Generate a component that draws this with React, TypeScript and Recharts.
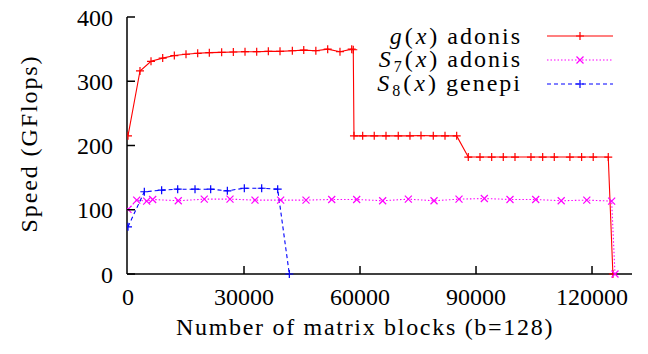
import React from 'react';
import { LineChart, Line, XAxis, YAxis, Legend } from 'recharts';

// g(x) adonis
const gX = [0, 3100, 5950, 8970, 11980, 15000, 18020, 21030, 24220, 27240, 30260, 33280, 36290, 39310, 42500, 45450, 48580, 51640, 54820, 57850, 58260,
  58440, 60690, 63680, 66720, 69890, 72920, 75770, 78950, 81980, 85000,
  88000, 91030, 94050, 97050, 100080, 104210, 107240, 110240, 114280, 117310, 120310, 124200, 125400];
const gY = [215, 316, 331, 336, 340, 342, 343.5, 344.5, 345, 345.5, 346, 346, 346.5, 346.5, 347.5, 348.5, 347.5, 350, 346, 350, 349,
  215, 215, 215, 215, 215, 215, 215.5, 215, 215, 215,
  182, 182, 182, 182, 182, 182, 182, 182, 182, 182, 182, 182, 0];

// S7(x) adonis
const s7X = [0, 2250, 4830, 6380, 13000, 19720, 26380, 32840, 39480, 46030, 52680, 59140, 65860, 72500, 79140, 85600, 92150, 98790, 105440, 112030, 118650, 125080, 125940];
const s7Y = [100.5, 115, 113.5, 116, 114, 116.5, 116.5, 115, 115, 115, 116, 116, 114, 116.5, 114, 116.5, 117.5, 116, 116, 114, 115, 113.5, 0];

// S8(x) genepi
const s8X = [0, 4220, 8700, 12850, 17330, 21380, 25690, 30080, 34570, 38710, 41720];
const s8Y = [73.5, 128, 130.5, 132, 132, 132, 129.5, 133.5, 133.5, 132, 0];

const xTicks = [0, 30000, 60000, 90000, 120000];
const yTicks = [0, 100, 200, 300, 400];
const xDomain = [-260, 130340];

const toPoints = (xs: number[], ys: number[]) => xs.map((x, i) => ({ x, y: ys[i] }));

const FONT = '"Liberation Serif", serif';
const TS = 8; // tick size
const TM = 6; // tick margin
const IN = 8; // inward tick length

type Marker = 'plus' | 'cross';

const SERIES = [
  { key: 'g', fn: 'g', sub: '', host: 'adonis', color: '#ff0000', dash: undefined as string | undefined, marker: 'plus' as Marker, data: toPoints(gX, gY) },
  { key: 's7', fn: 'S', sub: '7', host: 'adonis', color: '#ff00ff', dash: '1.5 2', marker: 'cross' as Marker, data: toPoints(s7X, s7Y) },
  { key: 's8', fn: 'S', sub: '8', host: 'genepi', color: '#0000ff', dash: '4 3', marker: 'plus' as Marker, data: toPoints(s8X, s8Y) },
];

const markerPath = (m: Marker, cx: number, cy: number) =>
  m === 'plus'
    ? `M${cx - 4},${cy}h8M${cx},${cy - 4}v8`
    : `M${cx - 3.5},${cy - 3.5}l7,7M${cx - 3.5},${cy + 3.5}l7,-7`;

const renderDot = (m: Marker, color: string) => (p: any) => (
  <path key={`d-${p.index}`} d={markerPath(m, p.cx, p.cy)} stroke={color} strokeWidth={1.2} fill="none" />
);

const isEdgeX = (v: number) => v === 0;

// inward tick marks, placed from the axis' own tick positions
const BottomTick = (p: any) => {
  const axisY = p.y - TS - TM;
  return (
    <g>
      {!isEdgeX(p.payload.value) && <line x1={p.x} x2={p.x} y1={axisY} y2={axisY - IN} stroke="#000" strokeWidth={1.5} />}
      <text x={p.x} y={p.y} dy="0.71em" textAnchor="middle" fontFamily={FONT} fontSize={24} fill="#000">{p.payload.value}</text>
    </g>
  );
};
const LeftTick = (p: any) => {
  const axisX = p.x + TS + TM;
  return (
    <g>
      <line x1={axisX} x2={axisX + IN} y1={p.y} y2={p.y} stroke="#000" strokeWidth={1.5} />
      <text x={p.x} y={p.y} dy="0.355em" textAnchor="end" fontFamily={FONT} fontSize={24} fill="#000">{p.payload.value}</text>
    </g>
  );
};
const TopTick = (p: any) => {
  const axisY = p.y + TS + TM;
  return isEdgeX(p.payload.value) ? <g /> : <line x1={p.x} x2={p.x} y1={axisY} y2={axisY + IN} stroke="#000" strokeWidth={1.5} />;
};
const RightTick = (p: any) => {
  const axisX = p.x - TS - TM;
  return <line x1={axisX} x2={axisX - IN} y1={p.y} y2={p.y} stroke="#000" strokeWidth={1.5} />;
};

const LegendBox = () => (
  <div style={{ fontFamily: FONT, fontSize: 24, lineHeight: '24px', color: '#000' }}>
    {SERIES.map((s) => (
      <div key={s.key} style={{ display: 'flex', alignItems: 'center', height: 24 }}>
        <span style={{ width: 186, textAlign: 'right', whiteSpace: 'nowrap', letterSpacing: 2 }}>
          <i style={{ marginRight: 1 }}>{s.fn}</i>
          {s.sub && <span style={{ fontSize: 16, position: 'relative', top: 5, marginRight: 1 }}>{s.sub}</span>}
          (<i style={{ margin: '0 1px' }}>x</i>)&nbsp;{s.host}
        </span>
        <svg width={70} height={24} style={{ marginLeft: 24 }}>
          <line x1={1} y1={12} x2={67} y2={12} stroke={s.color} strokeWidth={1.2} strokeDasharray={s.dash} />
          <path d={markerPath(s.marker, 34, 12)} stroke={s.color} strokeWidth={1.2} fill="none" />
        </svg>
      </div>
    ))}
  </div>
);

export default function App() {
  const axisLine = { stroke: '#000', strokeWidth: 1.5 };
  return (
    <div style={{ position: 'absolute', left: 0, top: 0, width: 648, height: 354, background: '#fff' }}>
      <LineChart width={648} height={354} margin={{ top: 17, right: 16, bottom: 0, left: 0 }}>
        <XAxis
          xAxisId="b"
          type="number"
          dataKey="x"
          domain={xDomain}
          ticks={xTicks}
          allowDataOverflow
          height={80}
          tickSize={TS}
          tickMargin={TM}
          axisLine={axisLine}
          tickLine={false}
          tick={BottomTick}
          label={{
            value: 'Number of matrix blocks (b=128)',
            content: (props: any) => {
              const vb = props.viewBox;
              return (
                <text x={365} y={vb.y + 61} textAnchor="middle" fontFamily={FONT} fontSize={24} letterSpacing={1.7} fill="#000">
                  Number of matrix blocks (b=128)
                </text>
              );
            },
          }}
        />
        <XAxis
          xAxisId="t"
          orientation="top"
          type="number"
          dataKey="x"
          domain={xDomain}
          ticks={xTicks}
          allowDataOverflow
          height={0}
          tickSize={TS}
          tickMargin={TM}
          axisLine={axisLine}
          tickLine={false}
          tick={TopTick}
        />
        <YAxis
          yAxisId="l"
          type="number"
          domain={[0, 400]}
          ticks={yTicks}
          width={127}
          tickSize={TS}
          tickMargin={TM}
          axisLine={axisLine}
          tickLine={false}
          tick={LeftTick}
          label={{
            value: 'Speed (GFlops)',
            content: (props: any) => {
              const vb = props.viewBox;
              const cx = 29;
              const cy = vb.y + vb.height / 2 - 2;
              return (
                <text x={cx} y={cy} transform={`rotate(-90 ${cx} ${cy})`} textAnchor="middle" dominantBaseline="central" fontFamily={FONT} fontSize={24} letterSpacing={1.9} fill="#000">
                  Speed (GFlops)
                </text>
              );
            },
          }}
        />
        <YAxis
          yAxisId="r"
          orientation="right"
          type="number"
          domain={[0, 400]}
          ticks={yTicks}
          width={0}
          tickSize={TS}
          tickMargin={TM}
          axisLine={axisLine}
          tickLine={false}
          tick={RightTick}
        />
        <Legend
          layout="vertical"
          align="center"
          verticalAlign="middle"
          wrapperStyle={{ top: 24, left: 336, width: 300, height: 76 }}
          content={() => <LegendBox />}
        />
        {SERIES.map((s) => (
          <Line
            key={s.key}
            xAxisId="b"
            yAxisId="l"
            data={s.data}
            dataKey="y"
            name={s.key}
            type="linear"
            stroke={s.color}
            strokeWidth={1.1}
            strokeDasharray={s.dash}
            dot={renderDot(s.marker, s.color)}
            activeDot={false}
            isAnimationActive={false}
          />
        ))}
      </LineChart>
    </div>
  );
}
